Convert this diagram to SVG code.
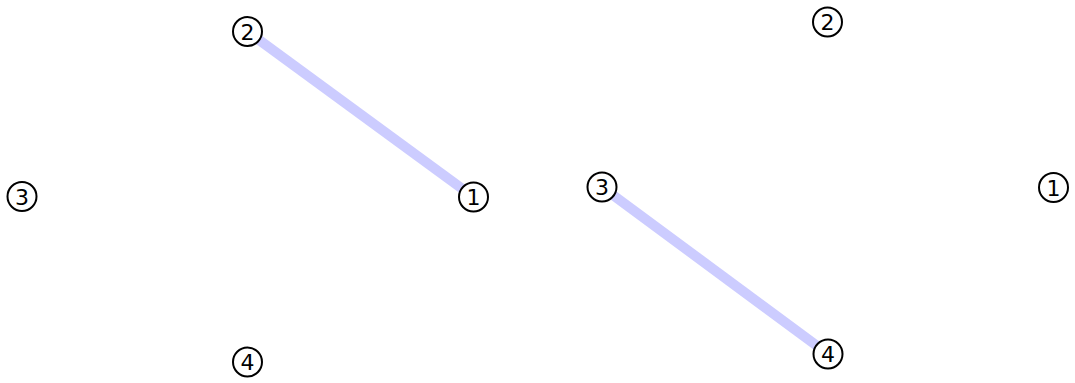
<svg xmlns="http://www.w3.org/2000/svg" width="1075" height="383" viewBox="0 0 1075 383">
<style>
.edge{stroke:#ccccff;stroke-width:10;stroke-linecap:butt;fill:none}
.ring{fill:#ffffff;stroke:#000000;stroke-width:2}
.lbl{font-family:"DejaVu Sans",sans-serif;font-size:22px;fill:#000;text-anchor:middle}
</style>
<rect width="1075" height="383" fill="#ffffff"/>
<g id="connectors">
<line class="edge" x1="247.5" y1="31.5" x2="473.5" y2="197"/>
<line class="edge" x1="602" y1="187" x2="828" y2="354"/>
</g>
<g id="n1a"><circle class="ring" cx="473.5" cy="197" r="14.5"/><text class="lbl" x="473.5" y="205">1</text></g>
<g id="n2a"><circle class="ring" cx="247.5" cy="31.5" r="14.5"/><text class="lbl" x="247.5" y="39.5">2</text></g>
<g id="n3a"><circle class="ring" cx="22" cy="196.5" r="14.5"/><text class="lbl" x="22" y="204.5">3</text></g>
<g id="n4a"><circle class="ring" cx="247.5" cy="362" r="14.5"/><text class="lbl" x="247.5" y="370">4</text></g>
<g id="n1b"><circle class="ring" cx="1053.5" cy="187.5" r="14.5"/><text class="lbl" x="1053.5" y="195.5">1</text></g>
<g id="n2b"><circle class="ring" cx="827.5" cy="22" r="14.5"/><text class="lbl" x="827.5" y="30">2</text></g>
<g id="n3b"><circle class="ring" cx="602" cy="187" r="14.5"/><text class="lbl" x="602" y="195">3</text></g>
<g id="n4b"><circle class="ring" cx="828" cy="354" r="14.5"/><text class="lbl" x="828" y="362">4</text></g>
</svg>
